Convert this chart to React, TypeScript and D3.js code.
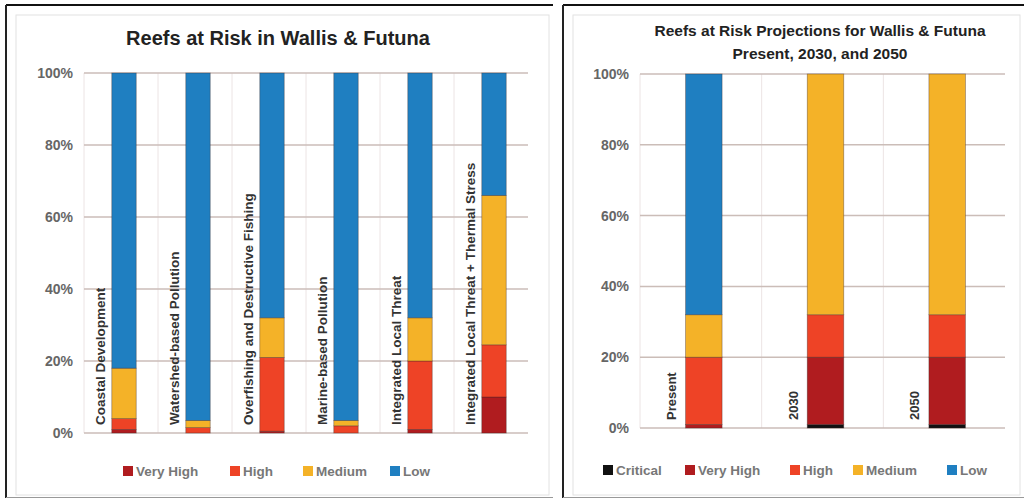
import * as d3 from 'd3';

// left chart: threat categories
const leftCategories = [
  'Coastal Development',
  'Watershed-based Pollution',
  'Overfishing and Destructive Fishing',
  'Marine-based Pollution',
  'Integrated Local Threat',
  'Integrated Local Threat + Thermal Stress',
];
const leftVeryHigh = [1, 0, 0.5, 0, 1, 10];
const leftHigh = [3, 1.5, 20.5, 2, 19, 14.5];
const leftMedium = [14, 2, 11, 1.5, 12, 41.5];
const leftLow = [82, 96.5, 68, 96.5, 68, 34];

// right chart: projections
const rightCategories = ['Present', '2030', '2050'];
const rightCritical = [0, 1, 1];
const rightVeryHigh = [1, 19, 19];
const rightHigh = [19, 12, 12];
const rightMedium = [12, 68, 68];
const rightLow = [68, 0, 0];

const yTicks = [0, 20, 40, 60, 80, 100];

const COLORS = {
  Critical: '#111111',
  'Very High': '#b01c1f',
  High: '#ee4326',
  Medium: '#f4b228',
  Low: '#1f7fc1',
};

const FONT = '"Liberation Sans", Arial, sans-serif';

type Series = { name: string; values: number[] };

function Panel({ x0, width, categories, series, plot, bandFrac, labelOffset, labelSize, titleLines, titleSize, titleX, titleY, titleGap, legend }) {
  const x = d3.scaleBand().domain(categories).range([plot.left, plot.right]);
  const y = d3.scaleLinear().domain([0, 100]).range([plot.bottom, plot.top]);
  const rows = categories.map((c, i) => {
    const r: any = { cat: c };
    series.forEach((s: Series) => (r[s.name] = s.values[i]));
    return r;
  });
  const stacked = d3.stack().keys(series.map((s: Series) => s.name))(rows);
  const bw = x.bandwidth() * bandFrac;
  const bx = (c: string) => x(c)! + x.bandwidth() / 2 - bw / 2 + 3;

  return (
    <g>
      {/* frame */}
      <rect x={x0} y={5} width={width} height={493} fill="#fff" />
      <rect x={x0 + 10} y={15} width={width - 14} height={480} fill="none" stroke="#e2e2e2" />
      <line x1={x0} x2={x0 + width} y1={5} y2={5} stroke="#111" strokeWidth={2} />
      <line x1={x0} x2={x0} y1={5} y2={498} stroke="#222" strokeWidth={2} />
      <line x1={x0} x2={x0 + width} y1={497.5} y2={497.5} stroke="#999" />

      {titleLines.map((t: string, i: number) => (
        <text key={t} x={titleX} y={titleY + i * titleGap} textAnchor="middle"
          fontFamily={FONT} fontWeight={700} fontSize={titleSize} fill="#222">{t}</text>
      ))}

      {/* vertical gridlines */}
      {categories.map((c: string) => (
        <line key={'v' + c} x1={x(c)} x2={x(c)} y1={plot.top} y2={plot.bottom} stroke="#ece4e4" />
      ))}
      {/* horizontal gridlines */}
      {yTicks.map((t) => (
        <g key={t}>
          <line x1={plot.left} x2={plot.right} y1={y(t)} y2={y(t)} stroke="#cbbdb8" strokeWidth={1.5} />
          <text x={plot.left - 11} y={y(t)} dy="0.35em" textAnchor="end" fontFamily={FONT}
            fontWeight={700} fontSize={14} fill="#666">{t}%</text>
        </g>
      ))}

      {stacked.map((layer) =>
        layer.map((d, i) => {
          const h = y(d[0]) - y(d[1]);
          if (h <= 0) return null;
          return (
            <rect key={layer.key + i} x={bx(categories[i])} y={y(d[1])} width={bw} height={h}
              fill={COLORS[layer.key]} stroke="rgba(60,40,40,0.45)" strokeWidth={0.8} />
          );
        })
      )}

      {categories.map((c: string) => {
        const lx = bx(c) + labelOffset;
        return (
          <text key={'l' + c} transform={`translate(${lx},${plot.bottom - 8}) rotate(-90)`} dy="0.35em"
            fontFamily={FONT} fontWeight={700} fontSize={labelSize} fill="#333">{c}</text>
        );
      })}

      {legend.items.map((it: { name: string; x: number }) => (
        <g key={'lg' + it.name}>
          <rect x={it.x} y={legend.y - 5} width={10} height={10} fill={COLORS[it.name]} />
          <text x={it.x + 13} y={legend.y} dy="0.35em" fontFamily={FONT} fontSize={13.5}
            fontWeight={700} fill="#777">{it.name}</text>
        </g>
      ))}
    </g>
  );
}

export default function App() {
  const leftSeries: Series[] = [
    { name: 'Very High', values: leftVeryHigh },
    { name: 'High', values: leftHigh },
    { name: 'Medium', values: leftMedium },
    { name: 'Low', values: leftLow },
  ];
  const rightSeries: Series[] = [
    { name: 'Critical', values: rightCritical },
    { name: 'Very High', values: rightVeryHigh },
    { name: 'High', values: rightHigh },
    { name: 'Medium', values: rightMedium },
    { name: 'Low', values: rightLow },
  ];
  return (
    <svg width={1024} height={499} style={{ position: 'absolute', left: 0, top: 0 }}>
      <rect width={1024} height={499} fill="#fff" />
      <Panel x0={6} width={547} categories={leftCategories} series={leftSeries}
        plot={{ left: 84, right: 528, top: 73, bottom: 433 }} bandFrac={0.33} labelOffset={-12} labelSize={13.5}
        titleLines={['Reefs at Risk in Wallis & Futuna']} titleSize={20} titleX={278} titleY={45} titleGap={0}
        legend={{ y: 471, items: [{ name: 'Very High', x: 123 }, { name: 'High', x: 230 }, { name: 'Medium', x: 303 }, { name: 'Low', x: 390 }] }} />
      <Panel x0={563} width={461} categories={rightCategories} series={rightSeries}
        plot={{ left: 640, right: 1005, top: 74, bottom: 428 }} bandFrac={0.3} labelOffset={-14} labelSize={13}
        titleLines={['Reefs at Risk Projections for Wallis & Futuna', 'Present, 2030, and 2050']}
        titleSize={15.5} titleX={820} titleY={36} titleGap={23}
        legend={{ y: 470, items: [{ name: 'Critical', x: 603 }, { name: 'Very High', x: 685 }, { name: 'High', x: 790 }, { name: 'Medium', x: 853 }, { name: 'Low', x: 947 }] }} />
    </svg>
  );
}
